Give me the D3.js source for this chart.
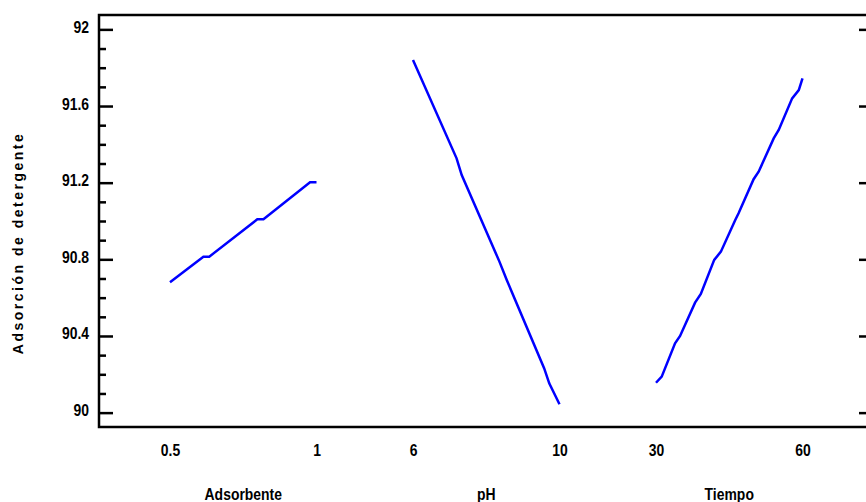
<!DOCTYPE html>
<html>
<head>
<meta charset="utf-8">
<script src="https://cdn.jsdelivr.net/npm/d3@7"></script>
<style>
  body { margin: 0; background: #fff; }
  svg { display: block; font-family: "Liberation Sans", Arial, sans-serif; font-weight: bold; }
</style>
</head>
<body>
<svg id="chart"></svg>
<script>
// factors, tick labels and values
const factors = ["Adsorbente", "pH", "Tiempo"];
const factorTicks = [[0.5, 1], [6, 10], [30, 60]];
const yMajor = [90, 90.4, 90.8, 91.2, 91.6, 92];

const adsX = [0.5, 0.614, 0.634, 0.798, 0.819, 0.978, 1.0];
const adsY = [90.68, 90.814, 90.814, 91.009, 91.009, 91.202, 91.202];

const phX = [6, 7.19, 7.33, 8.36, 8.56, 9.58, 9.72, 10];
const phY = [91.84, 91.327, 91.24, 90.788, 90.692, 90.232, 90.153, 90.044];

const timeX = [30, 31.17, 33.9, 34.93, 38.0, 39.18, 41.92, 43.29, 46.23, 46.91, 49.99, 51.02, 54.1, 55.13, 57.88, 59.24, 60];
const timeY = [90.156, 90.188, 90.362, 90.4, 90.574, 90.619, 90.797, 90.84, 91.005, 91.04, 91.218, 91.257, 91.431, 91.475, 91.64, 91.683, 91.744];

const series = [
  { x: adsX, y: adsY },
  { x: phX, y: phY },
  { x: timeX, y: timeY },
];

const W = 866, H = 502;
const plot = { left: 99, right: 873, top: 15, bottom: 427 };
const panelFirst = 170, panelSpan = 146.5, panelStep = 243;
const squeeze = "scale(0.82,1)";

const svg = d3.select("#chart").attr("width", W).attr("height", H);

const y = d3.scaleLinear().domain([89.925, 92.075]).range([plot.bottom, plot.top]);

let yMinor = [];
for (let i = 0; i < yMajor.length - 1; i++) {
  for (let k = 1; k < 4; k++) yMinor.push(+(yMajor[i] + k * 0.1).toFixed(1));
}

// left axis
const gl = svg.append("g").attr("transform", `translate(${plot.left},0)`);
gl.call(d3.axisLeft(y).tickValues(yMajor).tickSize(-14).tickFormat(d3.format("")));
gl.append("g").call(d3.axisLeft(y).tickValues(yMinor).tickSize(-7).tickFormat(""));
gl.selectAll(".domain").remove();
gl.selectAll("line").attr("stroke", "#000").attr("stroke-width", 2.5);
gl.selectAll("text")
  .attr("x", null).attr("dy", null)
  .attr("text-anchor", "end")
  .attr("font-size", 17)
  .attr("fill", "#000")
  .attr("transform", "translate(-10,3) " + squeeze);

// right axis (ticks only)
const gr = svg.append("g").attr("transform", `translate(${plot.right},0)`);
gr.call(d3.axisRight(y).tickValues(yMajor).tickSize(-14).tickFormat(""));
gr.append("g").call(d3.axisRight(y).tickValues(yMinor).tickSize(-7).tickFormat(""));
gr.selectAll(".domain").remove();
gr.selectAll("line").attr("stroke", "#000").attr("stroke-width", 2.5);

// frame
svg.append("path")
  .attr("d", `M${plot.left},${plot.top}H${plot.right}V${plot.bottom}H${plot.left}Z`)
  .attr("fill", "none")
  .attr("stroke", "#000")
  .attr("stroke-width", 2.5);

// panels
const line = d3.line();
factors.forEach((name, i) => {
  const t = factorTicks[i];
  const x0 = panelFirst + i * panelStep;
  const x = d3.scaleLinear().domain(t).range([x0, x0 + panelSpan]);

  const gx = svg.append("g").attr("transform", `translate(0,${plot.bottom})`);
  gx.call(d3.axisBottom(x).tickValues(t).tickSize(0).tickFormat(d3.format("")));
  gx.selectAll(".domain").remove();
  gx.selectAll("text")
    .attr("y", null).attr("dy", null)
    .attr("font-size", 17)
    .attr("fill", "#000")
    .attr("transform", "translate(0,29) " + squeeze);

  svg.append("text")
    .attr("transform", `translate(${x0 + panelSpan / 2},${H - 2}) ` + squeeze)
    .attr("text-anchor", "middle")
    .attr("font-size", 17)
    .text(name);

  const s = series[i];
  svg.append("path")
    .attr("d", line(s.x.map((v, j) => [x(v), y(s.y[j])])))
    .attr("fill", "none")
    .attr("stroke", "#0000ff")
    .attr("stroke-width", 2.5);
});

// y title
svg.append("text")
  .attr("transform", "translate(23,243) rotate(-90)")
  .attr("text-anchor", "middle")
  .attr("font-size", 14)
  .attr("letter-spacing", 2.5)
  .text("Adsorción de detergente");
</script>
</body>
</html>
